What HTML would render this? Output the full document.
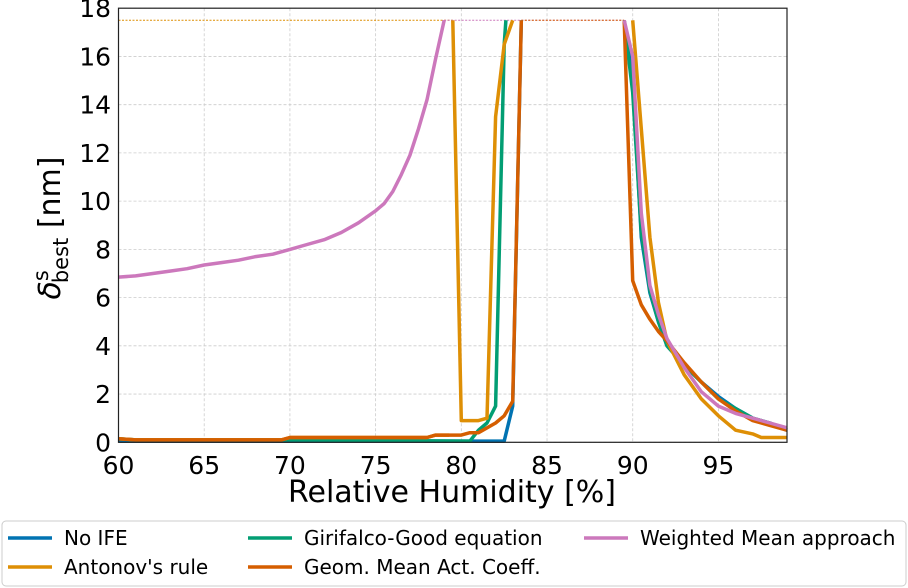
<!DOCTYPE html>
<html><head><meta charset="utf-8"><style>
body{margin:0;background:#fff;}
svg{display:block;font-family:"DejaVu Sans","Liberation Sans",sans-serif;}
</style></head><body>
<svg id="chart" width="908" height="588">
<g id="grid"></g>
<g id="series"></g>
<rect x="118.5" y="8.2" width="668.5" height="434.1" fill="none" stroke="#222" stroke-width="1.2"/>
<g id="ticks"></g>
<text x="452" y="502" font-size="30" text-anchor="middle">Relative Humidity [%]</text>
<text transform="translate(60,228) rotate(-90)" font-size="30" text-anchor="middle"><tspan font-style="italic">δ</tspan><tspan dy="-12" font-size="21">s</tspan><tspan dy="20" dx="-13" font-size="21">best</tspan><tspan dy="-8"> [nm]</tspan></text>
<g>
<rect x="2" y="521" width="904" height="65" rx="4" fill="#fff" stroke="#ccc"/>
<g><line x1="8" y1="538" x2="52" y2="538" stroke="#0173b2" stroke-width="3.5"/><text x="64" y="545" font-size="20">No IFE</text></g>
<g><line x1="8" y1="567" x2="52" y2="567" stroke="#de8f05" stroke-width="3.5"/><text x="64" y="574" font-size="20">Antonov's rule</text></g>
<g><line x1="248" y1="538" x2="292" y2="538" stroke="#029e73" stroke-width="3.5"/><text x="304" y="545" font-size="20">Girifalco-Good equation</text></g>
<g><line x1="248" y1="567" x2="292" y2="567" stroke="#d55e00" stroke-width="3.5"/><text x="304" y="574" font-size="20">Geom. Mean Act. Coeff.</text></g>
<g><line x1="584" y1="538" x2="628" y2="538" stroke="#cc78bc" stroke-width="3.5"/><text x="640" y="545" font-size="20">Weighted Mean approach</text></g>
</g>
</svg>
<script>
const xTicks=[60,65,70,75,80,85,90,95];
const yTicks=[0,2,4,6,8,10,12,14,16,18];
// null values break the line (region where the value is capped)
const noIfeX=[60,70,80,82.5,83,83.5,86,89.5,90,90.5,91,91.5,92,93,94,95,96,97,98,99];
const noIfeY=[0.05,0.05,0.05,0.05,1.5,17.5,null,17.5,15,8.5,6.2,5,4,3.2,2.5,1.9,1.4,1.0,0.8,0.5];
const antX=[60,61,69.5,70,78,78.5,79.3,79.4,79.5,80,81,81.5,82,82.5,83,86,90,90.5,91,91.5,92,93,94,95,96,97,97.5,99];
const antY=[0.15,0.1,0.1,0.2,0.2,0.3,0.3,null,17.5,0.9,0.9,1.0,13.5,16.5,17.5,null,17.5,13,8.5,5.8,4.2,2.8,1.8,1.1,0.5,0.35,0.2,0.2];
const girX=[60,61,70,80.5,81,81.5,82,82.5,82.6,86,89.5,90,90.5,91,91.5,92,93,94,95,96,97,98,99];
const girY=[0.15,0.1,0.1,0.05,0.5,0.8,1.5,16.5,17.5,null,17.5,14.5,8.7,6.3,5,4,3.2,2.5,1.8,1.4,1.0,0.8,0.5];
const geoX=[60,61,69.5,70,78,78.5,80,80.5,81,82,82.5,83,83.5,86,89.5,90,90.5,91,91.5,92,93,94,95,96,97,98,99];
const geoY=[0.15,0.1,0.1,0.2,0.2,0.3,0.3,0.4,0.4,0.8,1.1,1.7,17.5,null,17.5,6.7,5.7,5.1,4.6,4.2,3.3,2.5,1.8,1.3,0.9,0.7,0.5];
const wmX=[60,61,62,63,64,65,66,67,68,69,70,71,72,73,74,75,75.5,76,76.5,77,77.5,78,78.5,79,85,89.5,90,90.5,91,91.5,92,93,94,95,96,97,98,99];
const wmY=[6.85,6.9,7.0,7.1,7.2,7.35,7.45,7.55,7.7,7.8,8.0,8.2,8.4,8.7,9.1,9.6,9.9,10.4,11.1,11.9,13,14.2,15.9,17.5,null,17.5,16,9.5,6.5,5.3,4.3,3.1,2.1,1.5,1.2,1.0,0.8,0.6];
const capLevel=17.5;
const capSegs=[[60,79.5,'#de8f05'],[79,89.5,'#cc78bc'],[83.5,89.5,'#d55e00']];
const NS='http://www.w3.org/2000/svg';
const X0=118.5,X1=787,Y0=442.3,Y1=8.2,xmin=60,xmax=99,ymin=0,ymax=18;
const sx=v=>X0+(v-xmin)/(xmax-xmin)*(X1-X0);
const sy=v=>Y0-(v-ymin)/(ymax-ymin)*(Y0-Y1);
function mk(t,a,p){const e=document.createElementNS(NS,t);for(const k in a)e.setAttribute(k,a[k]);p.appendChild(e);return e;}
const grid=document.getElementById('grid'),ticks=document.getElementById('ticks'),ser=document.getElementById('series');
xTicks.forEach(v=>{
 const l=mk('line',{x1:sx(v),x2:sx(v),y1:Y1,y2:Y0,stroke:'#ccc','stroke-dasharray':'3,2','stroke-width':0.8},grid);
 
 
 const t=mk('text',{x:sx(v),y:474,'font-size':25,'text-anchor':'middle'},ticks);t.textContent=v;
 
 
});
yTicks.forEach(v=>{
 const l=mk('line',{x1:X0,x2:X1,y1:sy(v),y2:sy(v),stroke:'#ccc','stroke-dasharray':'3,2','stroke-width':0.8},grid);
 
 
 const t=mk('text',{x:111,y:sy(v)+9,'font-size':25,'text-anchor':'end'},ticks);t.textContent=v;
 
 
});
capSegs.forEach(s=>{
 const l=mk('line',{x1:sx(s[0]),x2:sx(s[1]),y1:sy(capLevel),y2:sy(capLevel),stroke:s[2],'stroke-dasharray':'2,1.5','stroke-width':1},ser);
 
 
});
const series=[[antX,antY,'#de8f05','antonov-line'],[wmX,wmY,'#cc78bc','weighted-mean-line'],[noIfeX,noIfeY,'#0173b2','no-ife-line'],[girX,girY,'#029e73','girifalco-line'],[geoX,geoY,'#d55e00','geom-mean-line']];
const order=[2,3,0,4,1];
order.forEach(i=>{const s=series[i];
 let d='',pen=false;
 s[0].forEach((x,j)=>{const y=s[1][j];
  if(y===null){pen=false;return;}
  d+=(pen?'L':'M')+sx(x).toFixed(1)+','+sy(y).toFixed(1);pen=true;});
 const p=mk('path',{d:d,fill:'none',stroke:s[2],'stroke-width':3.5,'stroke-linejoin':'round'},ser);
 
 
});
</script>
</body></html>
